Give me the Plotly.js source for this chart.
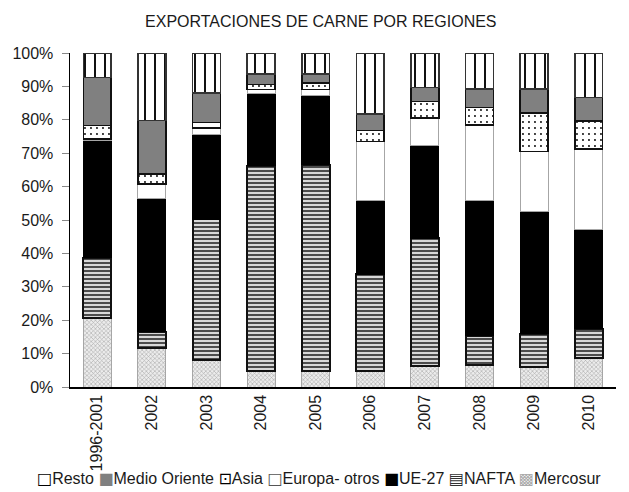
<!DOCTYPE html>
<html>
<head>
<meta charset="utf-8">
<script src="https://cdn.plot.ly/plotly-3.0.1.min.js"></script>
<style>html,body{margin:0;padding:0;background:#fff;}#chart{width:629px;height:492px;}</style>
</head>
<body>
<div id="chart"></div>
<script>
const categories = ["1996-2001","2002","2003","2004","2005","2006","2007","2008","2009","2010"];
const mercosur = [20.7, 11.8, 8.0, 4.8, 4.8, 4.8, 6.2, 6.7, 6.0, 8.8];
const nafta    = [18.0, 4.7, 42.2, 61.5, 61.7, 28.9, 38.3, 8.6, 10.0, 8.6];
const ue27     = [35.1, 40.0, 25.3, 21.7, 20.7, 22.1, 27.7, 40.5, 36.6, 29.8];
const europaOtros = [0.5, 4.3, 2.0, 1.0, 1.8, 17.7, 8.3, 22.7, 17.9, 24.1];
const asia     = [4.0, 2.9, 1.7, 1.5, 2.0, 3.3, 5.0, 5.2, 11.5, 8.4];
const medioOriente = [14.4, 16.1, 8.8, 3.2, 2.7, 5.0, 4.2, 5.5, 7.2, 7.0];
const resto    = [7.3, 20.2, 12.0, 6.3, 6.3, 18.2, 10.3, 10.8, 10.8, 13.3];
const seriesNames = ["Mercosur","NAFTA","UE-27","Europa- otros","Asia","Medio Oriente","Resto"];

const FONT = "'Liberation Sans', Arial, sans-serif";
const TXT = "#1a1a1a";

function bar(name, y, marker) {
  return {type: "bar", name: name, x: categories, y: y, marker: marker, showlegend: false,
          hovertemplate: name + ": %{y}%<extra></extra>"};
}

const traces = [
  bar(seriesNames[0], mercosur, {color: "#e4e4e4",
      pattern: {shape: "x", size: 3, solidity: 0.35, fgcolor: "#a8a8a8", bgcolor: "#ececec"},
      line: {color: "#a6a6a6", width: 1}}),
  bar(seriesNames[1], nafta, {color: "#c8c8c8",
      pattern: {shape: "-", size: 4, solidity: 0.45, fgcolor: "#3c3c3c", bgcolor: "#d8d8d8"},
      line: {color: "#111", width: 2}}),
  bar(seriesNames[2], ue27, {color: "#000000", line: {color: "#000", width: 1}}),
  bar(seriesNames[3], europaOtros, {color: "#ffffff", line: {color: "#a6a6a6", width: 1}}),
  bar(seriesNames[4], asia, {color: "#ffffff",
      pattern: {shape: ".", size: 6, solidity: 0.08, fgcolor: "#000", bgcolor: "#fff"},
      line: {color: "#111", width: 1.5}}),
  bar(seriesNames[5], medioOriente, {color: "#808080", line: {color: "#111", width: 1.5}}),
  bar(seriesNames[6], resto, {color: "#ffffff",
      pattern: {shape: "|", size: 10, solidity: 0.2, fgcolor: "#111", bgcolor: "#fff"},
      line: {color: "#333", width: 1.5}})
];

const sw = (ch, col) => `<span style="font-family:'DejaVu Sans';color:${col}">${ch}</span>`;
const legendText = [
  sw("□", "#000") + "Resto",
  sw("■", "#808080") + "Medio Oriente",
  sw("⊡", "#000") + "Asia",
  sw("□", "#555") + "Europa- otros",
  sw("■", "#000") + "UE-27",
  sw("▤", "#333") + "NAFTA",
  sw("▩", "#aaa") + "Mercosur"
].join(" ");

const layout = {
  width: 629, height: 492,
  margin: {l: 70, r: 13, t: 53, b: 105},
  paper_bgcolor: "#fff", plot_bgcolor: "#fff",
  font: {family: FONT, size: 16, color: TXT},
  title: {text: "EXPORTACIONES DE CARNE POR REGIONES", x: 0.51, xanchor: "center",
          y: 0.957, yanchor: "middle", font: {family: FONT, size: 16, color: TXT}},
  barmode: "stack",
  bargap: 0.49,
  showlegend: false,
  xaxis: {type: "category", showline: true, linecolor: "#000", linewidth: 1.5,
          ticks: "", tickangle: -90, showgrid: false, zeroline: false,
          tickfont: {family: FONT, size: 16, color: TXT}},
  yaxis: {range: [0, 100], dtick: 10, ticksuffix: "%", showline: true, linecolor: "#000",
          linewidth: 1.5, ticks: "outside", ticklen: 7, tickcolor: "#888", showgrid: false,
          ticklabelstandoff: 5,
          zeroline: false, tickfont: {family: FONT, size: 16, color: TXT}},
  annotations: [{text: legendText, xref: "paper", yref: "paper", x: (319 - 70) / 546, y: -0.274,
                 xanchor: "center", yanchor: "middle", showarrow: false,
                 font: {family: FONT, size: 16, color: TXT}}]
};

Plotly.newPlot("chart", traces, layout, {displayModeBar: false, staticPlot: true});
</script>
</body>
</html>
